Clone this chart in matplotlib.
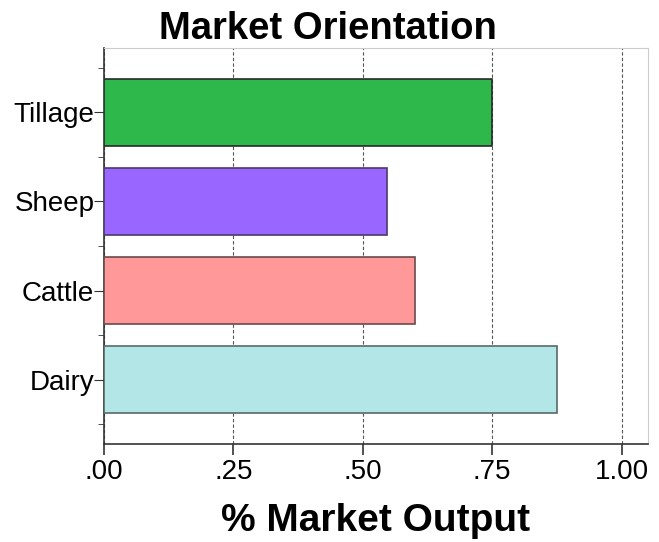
import numpy as np
import matplotlib.pyplot as plt
from matplotlib.ticker import FixedLocator

plt.rcParams['font.family'] = ['Liberation Sans', 'DejaVu Sans']

categories = ['Dairy', 'Cattle', 'Sheep', 'Tillage']
values = [0.875, 0.60, 0.547, 0.75]
colors = ['#b3e6e6', '#ff9999', '#9966ff', '#2eb84b']
edges = ['#5a6a6a', '#6a4a4a', '#4a3a6a', '#2a2a2a']
xticks = [0, 0.25, 0.5, 0.75, 1.0]
xtick_labels = ['.00', '.25', '.50', '.75', '1.00']

fig = plt.figure(figsize=(6.59, 5.42), dpi=100)
ax = fig.add_axes([104/659, 1-444/542, (648-104)/659, (444-48)/542])

y = np.arange(len(categories))
ax.barh(y, values, height=0.75, color=colors, edgecolor=edges, linewidth=1.2, zorder=3)

ax.set_xlim(0, 1.051)
ax.set_ylim(-0.72, len(categories) - 1 + 0.72)
ax.set_xticks(xticks)
ax.set_xticklabels(xtick_labels, fontsize=20)
ax.set_yticks(y)
ax.set_yticklabels(categories, fontsize=20)
ax.yaxis.set_minor_locator(FixedLocator(np.arange(-0.5, len(categories), 1.0)))
ax.tick_params(axis='y', which='major', length=7, color='#333333', pad=0)
ax.tick_params(axis='y', which='minor', length=4, color='#333333')
ax.tick_params(axis='x', length=8, width=1.2, color='#333333', pad=3)

ax.grid(axis='x', linestyle=(0, (3, 2)), color='#555555', linewidth=0.8, zorder=0)
for s in ['top', 'right']:
    ax.spines[s].set_color('#cccccc')
for s in ['left', 'bottom']:
    ax.spines[s].set_color('#333333')
    ax.spines[s].set_linewidth(1.2)

fig.suptitle('Market Orientation', fontsize=27.5, fontweight='bold', x=0.498, y=0.98)
ax.set_xlabel('% Market Output', fontsize=28, fontweight='bold', labelpad=13)

fig.savefig('out.png', dpi=100)
